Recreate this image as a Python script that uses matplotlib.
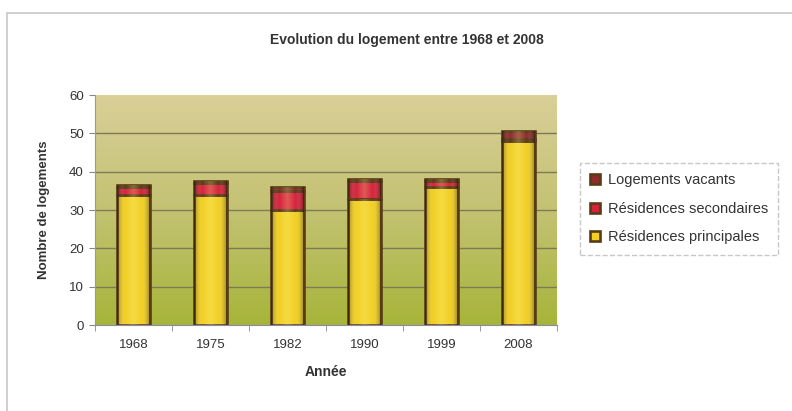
import matplotlib.pyplot as plt
import numpy as np
from matplotlib.colors import LinearSegmentedColormap
from matplotlib.patches import Rectangle

annees = ['1968', '1975', '1982', '1990', '1999', '2008']
principales = [34, 34, 30, 33, 36, 48]
secondaires = [2, 3, 5, 4.5, 1.5, 0.5]
vacants = [0.5, 0.5, 1, 0.5, 0.5, 2]

plt.rcParams['font.family'] = ['Liberation Sans', 'DejaVu Sans']

fig = plt.figure(figsize=(7.92, 4.11), dpi=100)
fig.patches.append(Rectangle((7 / 792, -0.05), 1.0, 1 - 13 / 411 + 0.05,
                             transform=fig.transFigure, fill=False,
                             edgecolor='#c8c8c8', linewidth=1.2))
ax = fig.add_axes([95 / 792, 1 - 325 / 411, 462 / 792, 230 / 411])

x = np.arange(len(annees))
ax.set_xlim(-0.5, len(annees) - 0.5)
ax.set_ylim(0, 60)

# background: tan at the top fading to olive green at the bottom
bg = LinearSegmentedColormap.from_list('bg', ['#a6b53a', '#c3c272', '#d9cf98'])
grad = np.linspace(0, 1, 256).reshape(-1, 1)
ax.imshow(grad, cmap=bg, origin='lower', aspect='auto',
          extent=[-0.5, len(annees) - 0.5, 0, 60], zorder=0)

for y in range(10, 60, 10):
    ax.axhline(y, color='#7d7a55', linewidth=1.0, zorder=1)

w = 0.42
bottoms2 = np.array(principales)
bottoms3 = bottoms2 + np.array(secondaires)
b1 = ax.bar(x, principales, w, color='#f2cf22', edgecolor='#5b3b16', linewidth=1.9, zorder=2)
b2 = ax.bar(x, secondaires, w, bottom=bottoms2, color='#d5243a', edgecolor='#5b3b16', linewidth=1.9, zorder=2)
b3 = ax.bar(x, vacants, w, bottom=bottoms3, color='#8e2d2c', edgecolor='#5b3b16', linewidth=1.9, zorder=2)

# cylinder-like shading on every bar segment
shade = LinearSegmentedColormap.from_list('shade', [(0, 0, 0, 0.35), (1, 1, 1, 0.0), (1, 1, 0.6, 0.25), (1, 1, 1, 0.0), (0, 0, 0, 0.35)])
hgrad = np.linspace(0, 1, 64).reshape(1, -1)
for cont in (b1, b2, b3):
    for p in cont:
        if p.get_height() <= 0:
            continue
        x0, y0 = p.get_x(), p.get_y()
        im = ax.imshow(hgrad, cmap=shade, aspect='auto',
                       extent=[x0, x0 + p.get_width(), y0, y0 + p.get_height()], zorder=2.5)
        im.set_clip_path(p)

ax.set_xlim(-0.5, len(annees) - 0.5)
ax.set_ylim(0, 60)

ax.set_xticks(x)
ax.set_xticklabels(annees)
ax.set_xticks(np.arange(-0.5, len(annees)), minor=True)
ax.tick_params(axis='x', which='major', length=0, pad=10, labelsize=9.5, labelcolor='#333333')
ax.tick_params(axis='x', which='minor', length=4, color='#888888')
ax.set_yticks(range(0, 61, 10))
ax.tick_params(axis='y', length=4, color='#888888', labelsize=9.5, labelcolor='#333333', pad=4)

for s in ['top', 'right']:
    ax.spines[s].set_visible(False)
ax.spines['left'].set_color('#999999')
ax.spines['bottom'].set_color('#8888aa')

ax.set_xlabel('Année', fontsize=10, fontweight='bold', color='#333333', labelpad=10)
ax.set_ylabel('Nombre de logements', fontsize=9.5, fontweight='bold', color='#333333', labelpad=14)
fig.text(407 / 792, 1 - 40 / 411, 'Evolution du logement entre 1968 et 2008',
         ha='center', va='center', fontsize=10, fontweight='bold', color='#333333')

leg = ax.legend([b3, b2, b1], ['Logements vacants', 'Résidences secondaires', 'Résidences principales'],
                loc='upper left', bbox_to_anchor=(580 / 792, 1 - 163 / 411), bbox_transform=fig.transFigure,
                fontsize=10.5, frameon=True, fancybox=False, handlelength=0.7, handleheight=0.7,
                labelspacing=1.0, handletextpad=0.5, borderpad=0.7, borderaxespad=0)
leg.get_frame().set_edgecolor('#bbbbbb')
leg.get_frame().set_linestyle('--')
for t in leg.get_texts():
    t.set_color('#333333')

fig.savefig('out.png', dpi=100)
